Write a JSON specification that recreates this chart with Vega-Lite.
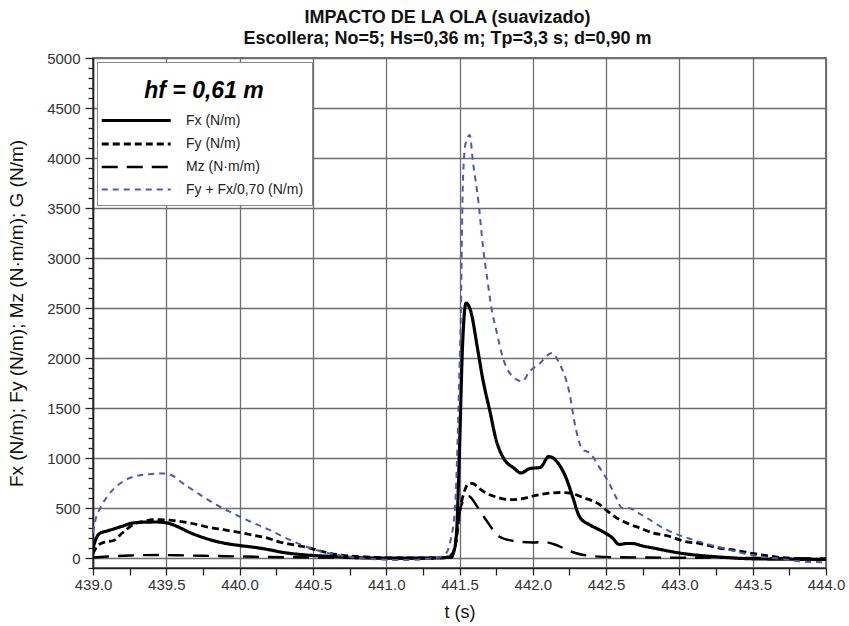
{
  "$schema": "https://vega.github.io/schema/vega-lite/v6.json",
  "width": 733,
  "height": 510,
  "autosize": {"type": "none"},
  "padding": {"left": 93, "top": 58, "right": 23, "bottom": 58},
  "background": "white",
  "title": {
    "text": ["IMPACTO DE LA OLA (suavizado)", "Escollera; No=5; Hs=0,36 m; Tp=3,3 s; d=0,90 m"],
    "fontSize": 18,
    "fontWeight": "bold",
    "font": "Liberation Sans",
    "color": "#111",
    "lineHeight": 21,
    "offset": 3,
    "dx": -12
  },
  "config": {
    "font": "Liberation Sans",
    "view": {"stroke": "#444", "strokeWidth": 1.5},
    "axis": {
      "labelFont": "Liberation Sans",
      "titleFont": "Liberation Sans",
      "labelFontSize": 15,
      "labelColor": "#333",
      "titleFontSize": 18,
      "titleFontWeight": "normal",
      "titleColor": "#111",
      "domainColor": "#222",
      "domainWidth": 1.5,
      "tickColor": "#222",
      "tickWidth": 1.3,
      "gridWidth": 1.3
    }
  },
  "data": {
    "values": [
      {"s": "Fx (N/m)", "t": 439.00, "v": 100},
      {"s": "Fx (N/m)", "t": 439.02, "v": 190},
      {"s": "Fx (N/m)", "t": 439.05, "v": 250},
      {"s": "Fx (N/m)", "t": 439.09, "v": 268},
      {"s": "Fx (N/m)", "t": 439.14, "v": 290},
      {"s": "Fx (N/m)", "t": 439.20, "v": 318},
      {"s": "Fx (N/m)", "t": 439.27, "v": 350},
      {"s": "Fx (N/m)", "t": 439.35, "v": 358},
      {"s": "Fx (N/m)", "t": 439.43, "v": 360},
      {"s": "Fx (N/m)", "t": 439.50, "v": 352},
      {"s": "Fx (N/m)", "t": 439.57, "v": 318},
      {"s": "Fx (N/m)", "t": 439.66, "v": 255},
      {"s": "Fx (N/m)", "t": 439.75, "v": 205},
      {"s": "Fx (N/m)", "t": 439.89, "v": 150},
      {"s": "Fx (N/m)", "t": 440.00, "v": 125},
      {"s": "Fx (N/m)", "t": 440.11, "v": 105},
      {"s": "Fx (N/m)", "t": 440.20, "v": 83},
      {"s": "Fx (N/m)", "t": 440.30, "v": 55},
      {"s": "Fx (N/m)", "t": 440.43, "v": 33},
      {"s": "Fx (N/m)", "t": 440.66, "v": 14},
      {"s": "Fx (N/m)", "t": 440.89, "v": 0},
      {"s": "Fx (N/m)", "t": 441.11, "v": -2},
      {"s": "Fx (N/m)", "t": 441.34, "v": 0},
      {"s": "Fx (N/m)", "t": 441.42, "v": 8},
      {"s": "Fx (N/m)", "t": 441.445, "v": 20},
      {"s": "Fx (N/m)", "t": 441.47, "v": 120},
      {"s": "Fx (N/m)", "t": 441.48, "v": 250},
      {"s": "Fx (N/m)", "t": 441.50, "v": 1100},
      {"s": "Fx (N/m)", "t": 441.52, "v": 2100},
      {"s": "Fx (N/m)", "t": 441.545, "v": 2550},
      {"s": "Fx (N/m)", "t": 441.58, "v": 2450},
      {"s": "Fx (N/m)", "t": 441.62, "v": 2120},
      {"s": "Fx (N/m)", "t": 441.66, "v": 1780},
      {"s": "Fx (N/m)", "t": 441.71, "v": 1450},
      {"s": "Fx (N/m)", "t": 441.75, "v": 1180},
      {"s": "Fx (N/m)", "t": 441.80, "v": 1000},
      {"s": "Fx (N/m)", "t": 441.87, "v": 900},
      {"s": "Fx (N/m)", "t": 441.92, "v": 850},
      {"s": "Fx (N/m)", "t": 441.98, "v": 895},
      {"s": "Fx (N/m)", "t": 442.05, "v": 905},
      {"s": "Fx (N/m)", "t": 442.11, "v": 1015},
      {"s": "Fx (N/m)", "t": 442.16, "v": 970},
      {"s": "Fx (N/m)", "t": 442.23, "v": 790},
      {"s": "Fx (N/m)", "t": 442.27, "v": 620},
      {"s": "Fx (N/m)", "t": 442.32, "v": 410},
      {"s": "Fx (N/m)", "t": 442.39, "v": 330},
      {"s": "Fx (N/m)", "t": 442.45, "v": 285},
      {"s": "Fx (N/m)", "t": 442.50, "v": 245},
      {"s": "Fx (N/m)", "t": 442.54, "v": 205},
      {"s": "Fx (N/m)", "t": 442.59, "v": 135},
      {"s": "Fx (N/m)", "t": 442.64, "v": 145},
      {"s": "Fx (N/m)", "t": 442.68, "v": 145},
      {"s": "Fx (N/m)", "t": 442.75, "v": 120},
      {"s": "Fx (N/m)", "t": 442.82, "v": 100},
      {"s": "Fx (N/m)", "t": 443.00, "v": 50},
      {"s": "Fx (N/m)", "t": 443.27, "v": 10},
      {"s": "Fx (N/m)", "t": 443.50, "v": -8},
      {"s": "Fx (N/m)", "t": 443.75, "v": -12},
      {"s": "Fx (N/m)", "t": 444.00, "v": -15},

      {"s": "Fy (N/m)", "t": 439.00, "v": 40},
      {"s": "Fy (N/m)", "t": 439.03, "v": 120},
      {"s": "Fy (N/m)", "t": 439.08, "v": 160},
      {"s": "Fy (N/m)", "t": 439.14, "v": 175},
      {"s": "Fy (N/m)", "t": 439.20, "v": 250},
      {"s": "Fy (N/m)", "t": 439.27, "v": 330},
      {"s": "Fy (N/m)", "t": 439.35, "v": 370},
      {"s": "Fy (N/m)", "t": 439.43, "v": 383},
      {"s": "Fy (N/m)", "t": 439.52, "v": 378},
      {"s": "Fy (N/m)", "t": 439.66, "v": 350},
      {"s": "Fy (N/m)", "t": 439.80, "v": 305},
      {"s": "Fy (N/m)", "t": 439.89, "v": 283},
      {"s": "Fy (N/m)", "t": 440.07, "v": 235},
      {"s": "Fy (N/m)", "t": 440.20, "v": 195},
      {"s": "Fy (N/m)", "t": 440.25, "v": 170},
      {"s": "Fy (N/m)", "t": 440.43, "v": 115},
      {"s": "Fy (N/m)", "t": 440.66, "v": 35},
      {"s": "Fy (N/m)", "t": 440.89, "v": 8},
      {"s": "Fy (N/m)", "t": 441.10, "v": 0},
      {"s": "Fy (N/m)", "t": 441.40, "v": 2},
      {"s": "Fy (N/m)", "t": 441.45, "v": 40},
      {"s": "Fy (N/m)", "t": 441.48, "v": 200},
      {"s": "Fy (N/m)", "t": 441.50, "v": 450},
      {"s": "Fy (N/m)", "t": 441.53, "v": 650},
      {"s": "Fy (N/m)", "t": 441.56, "v": 740},
      {"s": "Fy (N/m)", "t": 441.59, "v": 745},
      {"s": "Fy (N/m)", "t": 441.63, "v": 700},
      {"s": "Fy (N/m)", "t": 441.68, "v": 650},
      {"s": "Fy (N/m)", "t": 441.75, "v": 610},
      {"s": "Fy (N/m)", "t": 441.84, "v": 583},
      {"s": "Fy (N/m)", "t": 441.92, "v": 590},
      {"s": "Fy (N/m)", "t": 442.00, "v": 620},
      {"s": "Fy (N/m)", "t": 442.11, "v": 648},
      {"s": "Fy (N/m)", "t": 442.20, "v": 655},
      {"s": "Fy (N/m)", "t": 442.29, "v": 635},
      {"s": "Fy (N/m)", "t": 442.35, "v": 600},
      {"s": "Fy (N/m)", "t": 442.41, "v": 570},
      {"s": "Fy (N/m)", "t": 442.45, "v": 540},
      {"s": "Fy (N/m)", "t": 442.50, "v": 480},
      {"s": "Fy (N/m)", "t": 442.59, "v": 385},
      {"s": "Fy (N/m)", "t": 442.64, "v": 350},
      {"s": "Fy (N/m)", "t": 442.73, "v": 300},
      {"s": "Fy (N/m)", "t": 442.82, "v": 250},
      {"s": "Fy (N/m)", "t": 442.91, "v": 225},
      {"s": "Fy (N/m)", "t": 443.04, "v": 165},
      {"s": "Fy (N/m)", "t": 443.14, "v": 145},
      {"s": "Fy (N/m)", "t": 443.27, "v": 100},
      {"s": "Fy (N/m)", "t": 443.37, "v": 80},
      {"s": "Fy (N/m)", "t": 443.50, "v": 45},
      {"s": "Fy (N/m)", "t": 443.55, "v": 33},
      {"s": "Fy (N/m)", "t": 443.73, "v": 0},
      {"s": "Fy (N/m)", "t": 444.00, "v": -15},

      {"s": "Mz (N·m/m)", "t": 439.00, "v": 5},
      {"s": "Mz (N·m/m)", "t": 439.10, "v": 15},
      {"s": "Mz (N·m/m)", "t": 439.25, "v": 25},
      {"s": "Mz (N·m/m)", "t": 439.45, "v": 30},
      {"s": "Mz (N·m/m)", "t": 439.65, "v": 25},
      {"s": "Mz (N·m/m)", "t": 439.90, "v": 18},
      {"s": "Mz (N·m/m)", "t": 440.20, "v": 10},
      {"s": "Mz (N·m/m)", "t": 440.50, "v": 5},
      {"s": "Mz (N·m/m)", "t": 440.80, "v": 0},
      {"s": "Mz (N·m/m)", "t": 441.20, "v": -2},
      {"s": "Mz (N·m/m)", "t": 441.45, "v": 5},
      {"s": "Mz (N·m/m)", "t": 441.48, "v": 250},
      {"s": "Mz (N·m/m)", "t": 441.51, "v": 516},
      {"s": "Mz (N·m/m)", "t": 441.56, "v": 620},
      {"s": "Mz (N·m/m)", "t": 441.62, "v": 516},
      {"s": "Mz (N·m/m)", "t": 441.68, "v": 383},
      {"s": "Mz (N·m/m)", "t": 441.77, "v": 216},
      {"s": "Mz (N·m/m)", "t": 441.87, "v": 170},
      {"s": "Mz (N·m/m)", "t": 442.00, "v": 155},
      {"s": "Mz (N·m/m)", "t": 442.07, "v": 160},
      {"s": "Mz (N·m/m)", "t": 442.16, "v": 130},
      {"s": "Mz (N·m/m)", "t": 442.22, "v": 90},
      {"s": "Mz (N·m/m)", "t": 442.29, "v": 50},
      {"s": "Mz (N·m/m)", "t": 442.41, "v": 18},
      {"s": "Mz (N·m/m)", "t": 442.55, "v": 8},
      {"s": "Mz (N·m/m)", "t": 442.80, "v": 5},
      {"s": "Mz (N·m/m)", "t": 443.00, "v": 3},
      {"s": "Mz (N·m/m)", "t": 443.50, "v": 0},
      {"s": "Mz (N·m/m)", "t": 444.00, "v": -5},

      {"s": "Fy + Fx/0,70 (N/m)", "t": 439.00, "v": 250},
      {"s": "Fy + Fx/0,70 (N/m)", "t": 439.02, "v": 400},
      {"s": "Fy + Fx/0,70 (N/m)", "t": 439.05, "v": 500},
      {"s": "Fy + Fx/0,70 (N/m)", "t": 439.09, "v": 600},
      {"s": "Fy + Fx/0,70 (N/m)", "t": 439.16, "v": 716},
      {"s": "Fy + Fx/0,70 (N/m)", "t": 439.25, "v": 800},
      {"s": "Fy + Fx/0,70 (N/m)", "t": 439.36, "v": 835},
      {"s": "Fy + Fx/0,70 (N/m)", "t": 439.48, "v": 845},
      {"s": "Fy + Fx/0,70 (N/m)", "t": 439.53, "v": 833},
      {"s": "Fy + Fx/0,70 (N/m)", "t": 439.61, "v": 750},
      {"s": "Fy + Fx/0,70 (N/m)", "t": 439.73, "v": 633},
      {"s": "Fy + Fx/0,70 (N/m)", "t": 439.84, "v": 533},
      {"s": "Fy + Fx/0,70 (N/m)", "t": 439.95, "v": 450},
      {"s": "Fy + Fx/0,70 (N/m)", "t": 440.07, "v": 366},
      {"s": "Fy + Fx/0,70 (N/m)", "t": 440.20, "v": 283},
      {"s": "Fy + Fx/0,70 (N/m)", "t": 440.34, "v": 183},
      {"s": "Fy + Fx/0,70 (N/m)", "t": 440.48, "v": 100},
      {"s": "Fy + Fx/0,70 (N/m)", "t": 440.66, "v": 33},
      {"s": "Fy + Fx/0,70 (N/m)", "t": 440.89, "v": -10},
      {"s": "Fy + Fx/0,70 (N/m)", "t": 441.11, "v": -20},
      {"s": "Fy + Fx/0,70 (N/m)", "t": 441.34, "v": 0},
      {"s": "Fy + Fx/0,70 (N/m)", "t": 441.41, "v": 50},
      {"s": "Fy + Fx/0,70 (N/m)", "t": 441.44, "v": 183},
      {"s": "Fy + Fx/0,70 (N/m)", "t": 441.47, "v": 516},
      {"s": "Fy + Fx/0,70 (N/m)", "t": 441.50, "v": 1900},
      {"s": "Fy + Fx/0,70 (N/m)", "t": 441.51, "v": 2516},
      {"s": "Fy + Fx/0,70 (N/m)", "t": 441.515, "v": 3050},
      {"s": "Fy + Fx/0,70 (N/m)", "t": 441.52, "v": 3550},
      {"s": "Fy + Fx/0,70 (N/m)", "t": 441.53, "v": 3983},
      {"s": "Fy + Fx/0,70 (N/m)", "t": 441.545, "v": 4166},
      {"s": "Fy + Fx/0,70 (N/m)", "t": 441.57, "v": 4230},
      {"s": "Fy + Fx/0,70 (N/m)", "t": 441.59, "v": 3983},
      {"s": "Fy + Fx/0,70 (N/m)", "t": 441.63, "v": 3550},
      {"s": "Fy + Fx/0,70 (N/m)", "t": 441.66, "v": 3116},
      {"s": "Fy + Fx/0,70 (N/m)", "t": 441.69, "v": 2783},
      {"s": "Fy + Fx/0,70 (N/m)", "t": 441.72, "v": 2483},
      {"s": "Fy + Fx/0,70 (N/m)", "t": 441.75, "v": 2283},
      {"s": "Fy + Fx/0,70 (N/m)", "t": 441.80, "v": 1983},
      {"s": "Fy + Fx/0,70 (N/m)", "t": 441.89, "v": 1783},
      {"s": "Fy + Fx/0,70 (N/m)", "t": 441.93, "v": 1766},
      {"s": "Fy + Fx/0,70 (N/m)", "t": 441.97, "v": 1850},
      {"s": "Fy + Fx/0,70 (N/m)", "t": 442.05, "v": 1950},
      {"s": "Fy + Fx/0,70 (N/m)", "t": 442.13, "v": 2050},
      {"s": "Fy + Fx/0,70 (N/m)", "t": 442.18, "v": 1950},
      {"s": "Fy + Fx/0,70 (N/m)", "t": 442.25, "v": 1650},
      {"s": "Fy + Fx/0,70 (N/m)", "t": 442.29, "v": 1316},
      {"s": "Fy + Fx/0,70 (N/m)", "t": 442.34, "v": 1083},
      {"s": "Fy + Fx/0,70 (N/m)", "t": 442.39, "v": 1050},
      {"s": "Fy + Fx/0,70 (N/m)", "t": 442.45, "v": 916},
      {"s": "Fy + Fx/0,70 (N/m)", "t": 442.52, "v": 750},
      {"s": "Fy + Fx/0,70 (N/m)", "t": 442.57, "v": 600},
      {"s": "Fy + Fx/0,70 (N/m)", "t": 442.61, "v": 500},
      {"s": "Fy + Fx/0,70 (N/m)", "t": 442.65, "v": 500},
      {"s": "Fy + Fx/0,70 (N/m)", "t": 442.74, "v": 433},
      {"s": "Fy + Fx/0,70 (N/m)", "t": 442.91, "v": 283},
      {"s": "Fy + Fx/0,70 (N/m)", "t": 443.09, "v": 183},
      {"s": "Fy + Fx/0,70 (N/m)", "t": 443.25, "v": 116},
      {"s": "Fy + Fx/0,70 (N/m)", "t": 443.41, "v": 56},
      {"s": "Fy + Fx/0,70 (N/m)", "t": 443.55, "v": 16},
      {"s": "Fy + Fx/0,70 (N/m)", "t": 443.70, "v": -10},
      {"s": "Fy + Fx/0,70 (N/m)", "t": 443.82, "v": -33},
      {"s": "Fy + Fx/0,70 (N/m)", "t": 444.00, "v": -43}
    ]
  },
  "mark": {"type": "line", "interpolate": "monotone", "clip": true},
  "encoding": {
    "x": {
      "field": "t",
      "type": "quantitative",
      "scale": {"domain": [439, 444], "nice": false, "zero": false},
      "axis": {
        "title": "t (s)",
        "values": [439, 439.25, 439.5, 439.75, 440, 440.25, 440.5, 440.75, 441, 441.25, 441.5, 441.75, 442, 442.25, 442.5, 442.75, 443, 443.25, 443.5, 443.75, 444],
        "labelExpr": "abs(datum.value*2 - round(datum.value*2)) < 0.001 ? format(datum.value, '.1f') : ''",
        "gridOpacity": {"condition": {"test": "abs(datum.value*2 - round(datum.value*2)) < 0.001", "value": 1}, "value": 0},
        "gridColor": "#6e6e6e",
        "tickSize": 7,
        "labelPadding": 2,
        "labelFlush": false,
        "titlePadding": 11
      }
    },
    "y": {
      "field": "v",
      "type": "quantitative",
      "scale": {"domain": [-100, 5000], "nice": false, "zero": false},
      "axis": {
        "title": "Fx (N/m); Fy (N/m); Mz (N·m/m); G (N/m)",
        "titleFontSize": 19,
        "values": [-100, 0, 100, 200, 300, 400, 500, 600, 700, 800, 900, 1000, 1100, 1200, 1300, 1400, 1500, 1600, 1700, 1800, 1900, 2000, 2100, 2200, 2300, 2400, 2500, 2600, 2700, 2800, 2900, 3000, 3100, 3200, 3300, 3400, 3500, 3600, 3700, 3800, 3900, 4000, 4100, 4200, 4300, 4400, 4500, 4600, 4700, 4800, 4900, 5000],
        "labelExpr": "datum.value >= 0 && datum.value % 500 === 0 ? datum.value : ''",
        "gridOpacity": {"condition": {"test": "datum.value >= 0 && datum.value % 500 === 0", "value": 1}, "value": 0},
        "gridColor": "#6e6e6e",
        "tickSize": {"condition": {"test": "datum.value % 500 === 0", "value": 8}, "value": 5},
        "labelPadding": 5,
        "labelFlush": false,
        "titlePadding": 20
      }
    },
    "color": {
      "field": "s",
      "type": "nominal",
      "scale": {
        "domain": ["Fx (N/m)", "Fy (N/m)", "Mz (N·m/m)", "Fy + Fx/0,70 (N/m)"],
        "range": ["#000000", "#000000", "#000000", "#4a5cab"]
      },
      "legend": {
        "title": ["", "hf = 0,61 m"],
        "titleLineHeight": 10,
        "orient": "top-left",
        "offset": 4,
        "fillColor": "white",
        "strokeColor": "#888",
        "padding": 8,
        "titleFontSize": 23,
        "titleFontWeight": "bold",
        "titleFontStyle": "italic",
        "titleColor": "#000",
        "titleAnchor": "middle",
        "titlePadding": 8,
        "labelFontSize": 14,
        "labelColor": "#222",
        "labelOffset": 62,
        "symbolType": "M-1.7,0H7.5",
        "symbolSize": 225,
        "rowPadding": 7
      }
    },
    "strokeDash": {
      "field": "s",
      "type": "nominal",
      "scale": {
        "domain": ["Fx (N/m)", "Fy (N/m)", "Mz (N·m/m)", "Fy + Fx/0,70 (N/m)"],
        "range": [[1, 0], [7, 4], [16, 9], [6, 5]]
      }
    },
    "strokeWidth": {
      "field": "s",
      "type": "nominal",
      "scale": {
        "domain": ["Fx (N/m)", "Fy (N/m)", "Mz (N·m/m)", "Fy + Fx/0,70 (N/m)"],
        "range": [3.2, 2, 2, 1.6]
      }
    }
  }
}
